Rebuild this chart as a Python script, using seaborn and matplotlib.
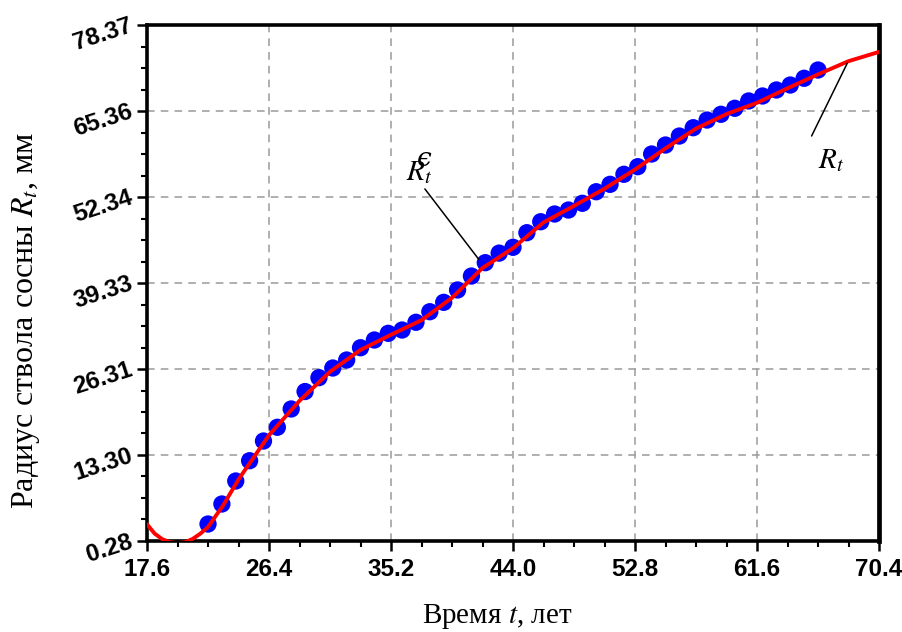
import matplotlib
matplotlib.use('Agg')
import matplotlib.pyplot as plt
from matplotlib.ticker import AutoMinorLocator, FixedLocator, FixedFormatter
import pandas as pd
import seaborn as sns

# measured stem radius, one point per year
years = list(range(22, 67))
radius_obs = [2.85, 5.88, 9.36, 12.43, 15.41, 17.49, 20.26, 22.9, 25.0, 26.46,
              27.67, 29.53, 30.70, 31.71, 32.21, 33.38, 34.98, 36.4, 38.27, 40.38,
              42.4, 43.85, 44.73, 46.94, 48.60, 49.77, 50.37, 51.39, 53.14, 54.26,
              55.78, 56.93, 58.85, 60.21, 61.57, 62.83, 63.99, 64.86, 65.77, 66.88,
              67.63, 68.54, 69.29, 70.31, 71.56]

# model curve
curve_t = [17.6, 18.15, 18.7, 19.25, 19.8, 20.35, 20.9, 21.45, 22.0, 23.1, 24.2,
           26.4, 28.6, 30.8, 33.0, 35.2, 37.4, 39.6, 41.8, 44.0, 46.2, 48.4,
           50.6, 52.8, 55.0, 57.2, 59.4, 61.6, 63.8, 66.0, 68.2, 70.4]
curve_r = [2.8, 1.4, 0.55, 0.1, -0.05, 0.1, 0.6, 1.4, 2.4, 5.7, 9.6,
           16.3, 21.5, 25.9, 29.2, 31.5, 33.7, 37.1, 41.6, 44.6, 48.5, 51.0,
           53.6, 56.5, 59.7, 62.7, 64.9, 66.6, 68.8, 70.9, 72.9, 74.3]

x_ticks = [17.6, 26.4, 35.2, 44.0, 52.8, 61.6, 70.4]
x_labels = ['17.6', '26.4', '35.2', '44.0', '52.8', '61.6', '70.4']
y_ticks = [0.28, 13.295, 26.31, 39.325, 52.34, 65.355, 78.37]
y_labels = ['0.28', '13.30', '26.31', '39.33', '52.34', '65.36', '78.37']

obs = pd.DataFrame({'t': years, 'R': radius_obs})
model = pd.DataFrame({'t': curve_t, 'R': curve_r})

sns.set_style('ticks')
plt.rcParams['font.family'] = ['Liberation Serif', 'DejaVu Serif']
plt.rcParams['mathtext.fontset'] = 'stix'
for key in ['text.color', 'axes.labelcolor', 'xtick.color', 'ytick.color']:
    plt.rcParams[key] = 'black'

fig, ax = plt.subplots(figsize=(9.02, 6.32), dpi=100)
fig.subplots_adjust(left=0.163, right=0.9745, bottom=0.144, top=0.9604)

sns.scatterplot(data=obs, x='t', y='R', ax=ax, s=155, color='#0000ff',
                edgecolor='none', linewidth=0, zorder=2)
sns.lineplot(data=model, x='t', y='R', ax=ax, color='#ff0000', lw=2.8,
             sort=False, estimator=None, zorder=3)

ax.set_xlim(17.6, 70.4)
ax.set_ylim(0.28, 78.37)
ax.xaxis.set_major_locator(FixedLocator(x_ticks))
ax.xaxis.set_major_formatter(FixedFormatter(x_labels))
ax.yaxis.set_major_locator(FixedLocator(y_ticks))
ax.yaxis.set_major_formatter(FixedFormatter(y_labels))
ax.xaxis.set_minor_locator(AutoMinorLocator(4))
ax.yaxis.set_minor_locator(AutoMinorLocator(4))

ax.grid(True, which='major', color='#9a9a9a', linestyle=(0, (5, 4)), lw=1.1)
for sp in ax.spines.values():
    sp.set_linewidth(2.6)
    sp.set_color('black')
    sp.set_visible(True)
ax.spines['right'].set_linewidth(3.4)

ax.tick_params(which='major', direction='out', length=7, width=1.8)
ax.tick_params(which='minor', direction='out', length=4.5, width=1.5)
ax.tick_params(axis='x', pad=5)
ax.tick_params(axis='y', pad=4)
for lab in ax.get_xticklabels():
    lab.set_fontfamily('Liberation Sans')
    lab.set_fontweight('bold')
    lab.set_fontsize(17.5)
for lab in ax.get_yticklabels():
    lab.set_fontfamily('Liberation Sans')
    lab.set_fontweight('bold')
    lab.set_fontsize(17.5)
    lab.set_rotation(18)
    lab.set_rotation_mode('anchor')
    lab.set_ha('right')
    lab.set_va('center')

ax.set_xlabel('Время $t$, лет', fontsize=21)
ax.set_ylabel('Радиус ствола сосны $R_t$, мм', fontsize=23)
ax.xaxis.set_label_coords(0.479, -0.118)
ax.yaxis.set_label_coords(-0.143, 0.428)

# leader lines and curve labels
ax.annotate('', xy=(41.66, 42.55), xytext=(37.52, 53.9),
            arrowprops=dict(arrowstyle='-', color='black', lw=1.1))
ax.annotate('', xy=(68.2, 72.97), xytext=(65.45, 61.2),
            arrowprops=dict(arrowstyle='-', color='black', lw=1.1))
ax.text(37.25, 55.97, '$R_t$', fontsize=21, ha='center', va='center')
ax.text(37.6, 58.2, 'ϵ', fontsize=19, ha='center', va='center',
        family=['DejaVu Serif'], style='italic')
ax.text(66.95, 57.9, '$R_t$', fontsize=21, ha='center', va='center')

fig.savefig('out.png', dpi=100)
